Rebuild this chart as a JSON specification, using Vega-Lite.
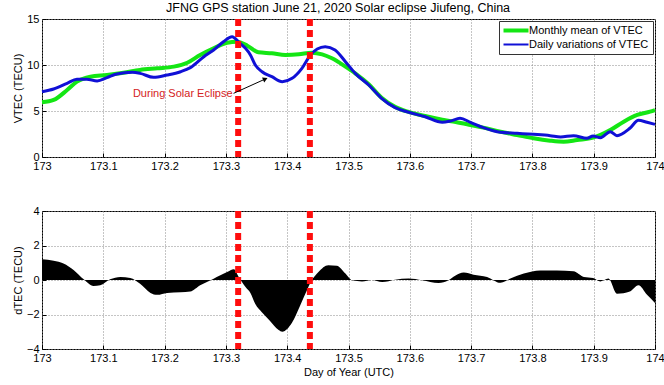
{
  "$schema": "https://vega.github.io/schema/vega-lite/v6.json",
  "padding": {"left": 11, "right": 1, "top": 2, "bottom": 7},
  "background": "white",
  "config": {
    "font": "Liberation Sans",
    "view": {"stroke": "black", "strokeWidth": 1},
    "axis": {
      "labelFont": "Liberation Sans", "labelFontSize": 11, "labelColor": "black",
      "titleFont": "Liberation Sans", "titleFontSize": 11, "titleFontWeight": "normal", "titleColor": "black",
      "domain": false, "grid": true, "gridColor": "#8a8a8a", "gridDash": [1, 2], "gridOpacity": 1, "gridWidth": 1,
      "ticks": true, "tickSize": -4, "tickColor": "black", "tickWidth": 1, "labelPadding": 7
    },
    "axisX": {"titlePadding": 3, "labelFlush": false},
    "axisY": {"minExtent": 14, "maxExtent": 14, "titlePadding": 5},
    "legend": {"strokeColor": "#333333", "fillColor": "white"}
  },
  "title": {"text": "JFNG GPS station June 21, 2020 Solar eclipse Jiufeng, China", "fontSize": 12.5, "fontWeight": "normal", "font": "Liberation Sans", "color": "black", "offset": -2, "anchor": "middle"},
  "datasets": {
    "vtec": [
      {"d": 173.000, "s": "Daily variations of VTEC", "v": 7.10},
      {"d": 173.019, "s": "Daily variations of VTEC", "v": 7.39},
      {"d": 173.041, "s": "Daily variations of VTEC", "v": 8.01},
      {"d": 173.057, "s": "Daily variations of VTEC", "v": 8.45},
      {"d": 173.073, "s": "Daily variations of VTEC", "v": 8.45},
      {"d": 173.090, "s": "Daily variations of VTEC", "v": 8.26},
      {"d": 173.106, "s": "Daily variations of VTEC", "v": 8.62},
      {"d": 173.122, "s": "Daily variations of VTEC", "v": 9.02},
      {"d": 173.147, "s": "Daily variations of VTEC", "v": 9.20},
      {"d": 173.160, "s": "Daily variations of VTEC", "v": 9.09},
      {"d": 173.182, "s": "Daily variations of VTEC", "v": 8.66},
      {"d": 173.204, "s": "Daily variations of VTEC", "v": 8.91},
      {"d": 173.226, "s": "Daily variations of VTEC", "v": 9.27},
      {"d": 173.242, "s": "Daily variations of VTEC", "v": 9.71},
      {"d": 173.264, "s": "Daily variations of VTEC", "v": 10.90},
      {"d": 173.280, "s": "Daily variations of VTEC", "v": 11.63},
      {"d": 173.296, "s": "Daily variations of VTEC", "v": 12.53},
      {"d": 173.310, "s": "Daily variations of VTEC", "v": 13.08},
      {"d": 173.323, "s": "Daily variations of VTEC", "v": 12.36},
      {"d": 173.332, "s": "Daily variations of VTEC", "v": 11.81},
      {"d": 173.340, "s": "Daily variations of VTEC", "v": 11.09},
      {"d": 173.348, "s": "Daily variations of VTEC", "v": 10.00},
      {"d": 173.359, "s": "Daily variations of VTEC", "v": 9.27},
      {"d": 173.375, "s": "Daily variations of VTEC", "v": 8.73},
      {"d": 173.392, "s": "Daily variations of VTEC", "v": 8.19},
      {"d": 173.408, "s": "Daily variations of VTEC", "v": 8.55},
      {"d": 173.424, "s": "Daily variations of VTEC", "v": 9.64},
      {"d": 173.438, "s": "Daily variations of VTEC", "v": 11.09},
      {"d": 173.449, "s": "Daily variations of VTEC", "v": 11.74},
      {"d": 173.462, "s": "Daily variations of VTEC", "v": 11.99},
      {"d": 173.478, "s": "Daily variations of VTEC", "v": 11.63},
      {"d": 173.495, "s": "Daily variations of VTEC", "v": 10.36},
      {"d": 173.511, "s": "Daily variations of VTEC", "v": 9.09},
      {"d": 173.533, "s": "Daily variations of VTEC", "v": 7.83},
      {"d": 173.554, "s": "Daily variations of VTEC", "v": 6.38},
      {"d": 173.576, "s": "Daily variations of VTEC", "v": 5.36},
      {"d": 173.598, "s": "Daily variations of VTEC", "v": 4.86},
      {"d": 173.625, "s": "Daily variations of VTEC", "v": 4.38},
      {"d": 173.653, "s": "Daily variations of VTEC", "v": 3.77},
      {"d": 173.666, "s": "Daily variations of VTEC", "v": 3.90},
      {"d": 173.682, "s": "Daily variations of VTEC", "v": 4.20},
      {"d": 173.699, "s": "Daily variations of VTEC", "v": 3.77},
      {"d": 173.720, "s": "Daily variations of VTEC", "v": 3.19},
      {"d": 173.748, "s": "Daily variations of VTEC", "v": 2.68},
      {"d": 173.775, "s": "Daily variations of VTEC", "v": 2.57},
      {"d": 173.802, "s": "Daily variations of VTEC", "v": 2.46},
      {"d": 173.829, "s": "Daily variations of VTEC", "v": 2.32},
      {"d": 173.846, "s": "Daily variations of VTEC", "v": 2.17},
      {"d": 173.867, "s": "Daily variations of VTEC", "v": 2.32},
      {"d": 173.889, "s": "Daily variations of VTEC", "v": 2.03},
      {"d": 173.899, "s": "Daily variations of VTEC", "v": 2.28},
      {"d": 173.911, "s": "Daily variations of VTEC", "v": 2.10},
      {"d": 173.927, "s": "Daily variations of VTEC", "v": 2.75},
      {"d": 173.938, "s": "Daily variations of VTEC", "v": 2.32},
      {"d": 173.959, "s": "Daily variations of VTEC", "v": 3.12},
      {"d": 173.973, "s": "Daily variations of VTEC", "v": 3.99},
      {"d": 173.987, "s": "Daily variations of VTEC", "v": 3.77},
      {"d": 174.000, "s": "Daily variations of VTEC", "v": 3.55},
      {"d": 173.000, "s": "Monthly mean of VTEC", "v": 5.95},
      {"d": 173.019, "s": "Monthly mean of VTEC", "v": 6.20},
      {"d": 173.041, "s": "Monthly mean of VTEC", "v": 7.28},
      {"d": 173.057, "s": "Monthly mean of VTEC", "v": 8.19},
      {"d": 173.079, "s": "Monthly mean of VTEC", "v": 8.73},
      {"d": 173.106, "s": "Monthly mean of VTEC", "v": 8.91},
      {"d": 173.133, "s": "Monthly mean of VTEC", "v": 9.16},
      {"d": 173.160, "s": "Monthly mean of VTEC", "v": 9.46},
      {"d": 173.188, "s": "Monthly mean of VTEC", "v": 9.64},
      {"d": 173.215, "s": "Monthly mean of VTEC", "v": 9.82},
      {"d": 173.237, "s": "Monthly mean of VTEC", "v": 10.25},
      {"d": 173.258, "s": "Monthly mean of VTEC", "v": 11.09},
      {"d": 173.280, "s": "Monthly mean of VTEC", "v": 11.81},
      {"d": 173.302, "s": "Monthly mean of VTEC", "v": 12.42},
      {"d": 173.318, "s": "Monthly mean of VTEC", "v": 12.53},
      {"d": 173.335, "s": "Monthly mean of VTEC", "v": 12.10},
      {"d": 173.353, "s": "Monthly mean of VTEC", "v": 11.38},
      {"d": 173.375, "s": "Monthly mean of VTEC", "v": 11.27},
      {"d": 173.397, "s": "Monthly mean of VTEC", "v": 11.09},
      {"d": 173.419, "s": "Monthly mean of VTEC", "v": 11.16},
      {"d": 173.440, "s": "Monthly mean of VTEC", "v": 11.34},
      {"d": 173.457, "s": "Monthly mean of VTEC", "v": 11.16},
      {"d": 173.473, "s": "Monthly mean of VTEC", "v": 10.73},
      {"d": 173.495, "s": "Monthly mean of VTEC", "v": 9.82},
      {"d": 173.511, "s": "Monthly mean of VTEC", "v": 9.09},
      {"d": 173.533, "s": "Monthly mean of VTEC", "v": 7.90},
      {"d": 173.554, "s": "Monthly mean of VTEC", "v": 6.45},
      {"d": 173.576, "s": "Monthly mean of VTEC", "v": 5.45},
      {"d": 173.598, "s": "Monthly mean of VTEC", "v": 4.90},
      {"d": 173.625, "s": "Monthly mean of VTEC", "v": 4.45},
      {"d": 173.653, "s": "Monthly mean of VTEC", "v": 4.05},
      {"d": 173.675, "s": "Monthly mean of VTEC", "v": 3.80},
      {"d": 173.699, "s": "Monthly mean of VTEC", "v": 3.48},
      {"d": 173.720, "s": "Monthly mean of VTEC", "v": 3.19},
      {"d": 173.748, "s": "Monthly mean of VTEC", "v": 2.75},
      {"d": 173.775, "s": "Monthly mean of VTEC", "v": 2.39},
      {"d": 173.802, "s": "Monthly mean of VTEC", "v": 2.03},
      {"d": 173.829, "s": "Monthly mean of VTEC", "v": 1.77},
      {"d": 173.851, "s": "Monthly mean of VTEC", "v": 1.66},
      {"d": 173.873, "s": "Monthly mean of VTEC", "v": 1.85},
      {"d": 173.899, "s": "Monthly mean of VTEC", "v": 2.10},
      {"d": 173.927, "s": "Monthly mean of VTEC", "v": 2.93},
      {"d": 173.949, "s": "Monthly mean of VTEC", "v": 3.84},
      {"d": 173.971, "s": "Monthly mean of VTEC", "v": 4.57},
      {"d": 173.992, "s": "Monthly mean of VTEC", "v": 4.93},
      {"d": 174.000, "s": "Monthly mean of VTEC", "v": 5.10}
    ],
    "dtec": [
      {"d": 173.000, "v": 1.20},
      {"d": 173.019, "v": 1.12},
      {"d": 173.035, "v": 0.96},
      {"d": 173.052, "v": 0.57},
      {"d": 173.068, "v": 0.04},
      {"d": 173.084, "v": -0.35},
      {"d": 173.095, "v": -0.31},
      {"d": 173.111, "v": 0.04},
      {"d": 173.128, "v": 0.18},
      {"d": 173.144, "v": 0.12},
      {"d": 173.160, "v": -0.22},
      {"d": 173.177, "v": -0.75},
      {"d": 173.188, "v": -0.86},
      {"d": 173.204, "v": -0.75},
      {"d": 173.226, "v": -0.71},
      {"d": 173.242, "v": -0.67},
      {"d": 173.258, "v": -0.31},
      {"d": 173.275, "v": -0.02},
      {"d": 173.285, "v": 0.18},
      {"d": 173.302, "v": 0.47},
      {"d": 173.313, "v": 0.63},
      {"d": 173.321, "v": 0.18},
      {"d": 173.332, "v": -0.41},
      {"d": 173.340, "v": -0.75},
      {"d": 173.348, "v": -1.39},
      {"d": 173.359, "v": -1.88},
      {"d": 173.372, "v": -2.37},
      {"d": 173.386, "v": -2.90},
      {"d": 173.392, "v": -3.00},
      {"d": 173.408, "v": -2.47},
      {"d": 173.421, "v": -1.49},
      {"d": 173.432, "v": -0.61},
      {"d": 173.440, "v": -0.02},
      {"d": 173.451, "v": 0.47},
      {"d": 173.467, "v": 0.86},
      {"d": 173.481, "v": 0.82},
      {"d": 173.495, "v": 0.37},
      {"d": 173.506, "v": -0.02},
      {"d": 173.522, "v": -0.08},
      {"d": 173.538, "v": 0.00},
      {"d": 173.555, "v": -0.12},
      {"d": 173.576, "v": 0.02},
      {"d": 173.598, "v": 0.08},
      {"d": 173.620, "v": -0.02},
      {"d": 173.647, "v": -0.18},
      {"d": 173.663, "v": -0.02},
      {"d": 173.674, "v": 0.24},
      {"d": 173.688, "v": 0.43},
      {"d": 173.704, "v": 0.31},
      {"d": 173.726, "v": 0.18},
      {"d": 173.748, "v": -0.16},
      {"d": 173.764, "v": 0.08},
      {"d": 173.786, "v": 0.37},
      {"d": 173.813, "v": 0.55},
      {"d": 173.840, "v": 0.55},
      {"d": 173.867, "v": 0.51},
      {"d": 173.884, "v": 0.18},
      {"d": 173.899, "v": 0.12},
      {"d": 173.911, "v": -0.08},
      {"d": 173.924, "v": 0.08},
      {"d": 173.938, "v": -0.80},
      {"d": 173.959, "v": -0.67},
      {"d": 173.973, "v": -0.31},
      {"d": 173.987, "v": -0.86},
      {"d": 174.000, "v": -1.33}
    ],
    "eclipse": [{"d": 173.320}, {"d": 173.437}],
    "note": [{"d": 173.3125, "v": 6.92, "d2": 173.3643, "v2": 8.48, "label": "During Solar Eclipse"}]
  },
  "vconcat": [
    {
      "width": 613,
      "height": 138,
      "layer": [
        {
          "data": {"name": "vtec"},
          "transform": [{"filter": "datum.s == 'Monthly mean of VTEC'"}],
          "mark": {"type": "line", "strokeWidth": 4, "interpolate": "monotone"},
          "encoding": {
            "x": {"field": "d", "type": "quantitative", "scale": {"domain": [173, 174], "zero": false, "nice": false},
                  "axis": {"title": null, "values": [173, 173.1, 173.2, 173.3, 173.4, 173.5, 173.6, 173.7, 173.8, 173.9, 174], "format": "~g"}},
            "y": {"field": "v", "type": "quantitative", "scale": {"domain": [0, 15], "nice": false},
                  "axis": {"title": "VTEC (TECU)", "values": [0, 5, 10, 15]}},
            "color": {"field": "s", "type": "nominal",
                      "scale": {"domain": ["Monthly mean of VTEC", "Daily variations of VTEC"], "range": ["#14e614", "#1010d6"]},
                      "legend": {
                        "title": null, "orient": "top-right", "offset": 2, "fillColor": "white", "strokeColor": "#333333",
                        "padding": 4, "symbolType": "M-1,0H4", "symbolSize": 100, "symbolStrokeWidth": 4,
                        "labelFont": "Liberation Sans", "labelFontSize": 11, "labelColor": "black", "labelOffset": 15,
                        "rowPadding": -2, "cornerRadius": 0,
                        "encode": {
                          "legend": {"update": {"stroke": {"value": "#333333"}, "strokeWidth": {"value": 1}, "fill": {"value": "white"}}},
                          "symbols": {"update": {
                            "strokeWidth": {"signal": "datum.value == 'Monthly mean of VTEC' ? 4 : 2"},
                            "stroke": {"signal": "datum.value == 'Monthly mean of VTEC' ? '#14e614' : '#9a9ad0'"},
                            "fill": {"value": "transparent"}
                          }}
                        }
                      }}
          }
        },
        {
          "data": {"name": "vtec"},
          "transform": [{"filter": "datum.s == 'Daily variations of VTEC'"}],
          "mark": {"type": "line", "strokeWidth": 3, "interpolate": "monotone"},
          "encoding": {
            "x": {"field": "d", "type": "quantitative"},
            "y": {"field": "v", "type": "quantitative"},
            "color": {"field": "s", "type": "nominal"}
          }
        },
        {
          "data": {"name": "eclipse"},
          "mark": {"type": "rule", "color": "#ff0d0d", "strokeWidth": 6, "strokeDash": [7, 4]},
          "encoding": {"x": {"field": "d", "type": "quantitative"}}
        },
        {
          "data": {"name": "note"},
          "mark": {"type": "rule", "color": "black", "strokeWidth": 1},
          "encoding": {
            "x": {"field": "d", "type": "quantitative"},
            "y": {"field": "v", "type": "quantitative"},
            "x2": {"field": "d2"},
            "y2": {"field": "v2"}
          }
        },
        {
          "data": {"name": "note"},
          "mark": {"type": "point", "shape": "triangle-right", "filled": true, "color": "black", "size": 30, "angle": 336, "opacity": 1},
          "encoding": {
            "x": {"field": "d2", "type": "quantitative"},
            "y": {"field": "v2", "type": "quantitative"}
          }
        },
        {
          "data": {"name": "note"},
          "mark": {"type": "text", "align": "right", "baseline": "middle", "dx": -1, "dy": 1, "font": "Liberation Sans", "fontSize": 11, "color": "#d42222"},
          "encoding": {
            "x": {"field": "d", "type": "quantitative"},
            "y": {"field": "v", "type": "quantitative"},
            "text": {"field": "label"}
          }
        }
      ]
    },
    {
      "width": 613,
      "height": 138,
      "layer": [
        {
          "data": {"name": "dtec"},
          "mark": {"type": "area", "color": "black", "interpolate": "monotone", "opacity": 1},
          "encoding": {
            "x": {"field": "d", "type": "quantitative", "scale": {"domain": [173, 174], "zero": false, "nice": false},
                  "axis": {"title": "Day of Year (UTC)", "values": [173, 173.1, 173.2, 173.3, 173.4, 173.5, 173.6, 173.7, 173.8, 173.9, 174], "format": "~g"}},
            "y": {"field": "v", "type": "quantitative", "stack": null, "scale": {"domain": [-4, 4], "nice": false},
                  "axis": {"title": "dTEC (TECU)", "values": [-4, -2, 0, 2, 4]}}
          }
        },
        {
          "data": {"name": "eclipse"},
          "mark": {"type": "rule", "color": "#ff0d0d", "strokeWidth": 6, "strokeDash": [7, 4]},
          "encoding": {"x": {"field": "d", "type": "quantitative"}}
        }
      ]
    }
  ],
  "spacing": 54,
  "bounds": "flush"
}
